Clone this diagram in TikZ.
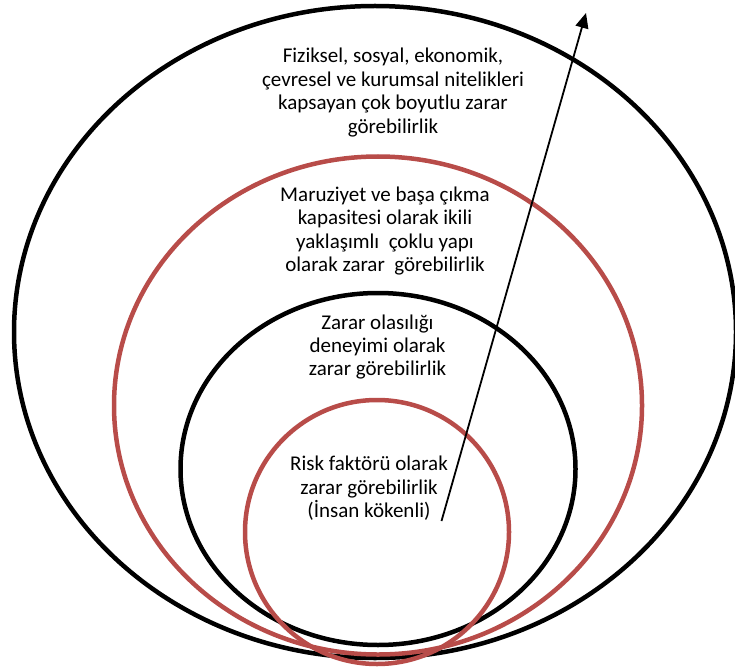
\documentclass[tikz,border=0pt]{standalone}
\usepackage{fontspec}
\setmainfont{Carlito}
\usetikzlibrary{arrows.meta}
\definecolor{ringred}{RGB}{184,76,73}
\tikzset{
  ring/.style={line width=4.5pt},
  label/.style={align=center,font=\fontsize{21}{23.4}\selectfont,inner sep=0pt}
}
\begin{document}
\begin{tikzpicture}[x=1pt,y=-1pt]
  \useasboundingbox (0,0) rectangle (735,668);
  % nested rings, all resting near the bottom
  \draw[ring] (375,332) ellipse [x radius=361,y radius=326];
  \draw[ring,ringred] (378,405.5) ellipse [x radius=264,y radius=249];
  \draw[ring] (378,469) ellipse [x radius=197.5,y radius=176];
  \draw[ring,ringred] (377,532) circle [radius=132];

  \node[label] (outer) at (393,92.5) {Fiziksel, sosyal, ekonomik,\\
    çevresel ve kurumsal nitelikleri\\
    kapsayan çok boyutlu zarar\\
    görebilirlik};
  \node[label] (second) at (385,231) {Maruziyet ve başa çıkma\\
    kapasitesi olarak ikili\\
    yaklaşımlı\ \ çoklu yapı\\
    olarak zarar\ \ görebilirlik};
  \node[label] (third) at (377.5,347) {Zarar olasılığı\\
    deneyimi olarak\\
    zarar görebilirlik};
  \node[label] (inner) at (369,488.5) {Risk faktörü olarak\\
    zarar görebilirlik\\
    (İnsan kökenli)};

  \coordinate (start) at (441.5,521);
  \coordinate (tip) at (586,13);
  \draw[line width=1.8pt,-{Triangle[length=15pt,width=13pt]}] (start) -- (tip);
\end{tikzpicture}
\end{document}
